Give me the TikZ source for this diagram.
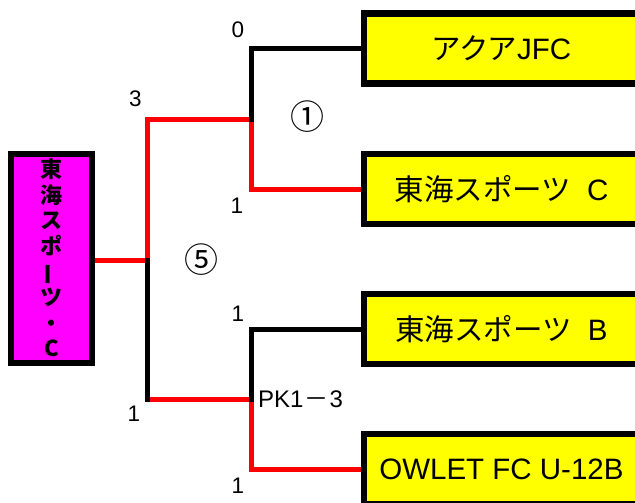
\documentclass[tikz,border=0pt]{standalone}
\usepackage{fontspec}
\usepackage{graphicx}
\setmainfont{Liberation Sans}
\newfontfamily\jp{Noto Sans CJK JP}
\definecolor{teamyellow}{RGB}{255,255,0}
\definecolor{winmagenta}{RGB}{255,0,255}
\definecolor{winred}{RGB}{255,0,0}
\begin{document}
\begin{tikzpicture}[x=1pt,y=-1pt,
  team/.style={draw=black, line width=6.5pt, fill=teamyellow, minimum width=275pt,
    minimum height=70pt, inner sep=0pt, anchor=west, font=\fontsize{29.5}{29.5}\selectfont},
  winner/.style={draw=black, line width=6pt, fill=winmagenta, minimum width=81pt,
    minimum height=209pt, inner sep=0pt, align=center,
    font=\jp\bfseries\fontsize{22}{25.6}\selectfont},
  score/.style={inner sep=0pt, font=\fontsize{22.5}{22.5}\selectfont},
  pk/.style={inner sep=0pt, anchor=west, font=\fontsize{24}{24}\selectfont},
  gameno/.style={inner sep=0pt, font=\jp\fontsize{34}{34}\selectfont},
  winline/.style={draw=winred, line width=5pt},
  loseline/.style={draw=black, line width=5pt, line cap=rect}]
\clip (0,0) rectangle (635,503);
\fill[white] (0,0) rectangle (635,503);

% nodes
\node[winner] (team0) at (51.5,258) {東\\海\\ス\\ポ\\\rotatebox[origin=c]{90}{ー}\\ツ\\・\\C};
\node[team] (team1) at (360.7,48.5) {{\jp ア\kern-1.5ptク\kern-1.5ptア}JFC};
\node[team] (team2) at (360.7,189) {{\jp 東海スポーツ}\hspace{16pt}C};
\node[team] (team3) at (360.7,329) {{\jp 東海スポーツ}\hspace{16pt}B};
\node[team] (team4) at (360.7,469) {OWLET FC U-12B};

% junctions
\coordinate (j5) at (147,260);
\coordinate (t3) at (147,119);
\coordinate (b3) at (147,399);
\coordinate (j1) at (251,119);
\coordinate (j2) at (251,399);

% winner (red) lines first
\draw[winline] (team0.east |- j5) -- (j5) -- (t3) -- (j1);
\draw[winline] (b3) -- (j2);
\draw[winline] (j1) -- (j1 |- team2.west) -- (team2.west);
\draw[winline] (j2) -- (j2 |- team4.west) -- (team4.west);
% loser (black) lines
\draw[loseline] (j5) -- (b3);
\draw[loseline] (j1) -- (j1 |- team1.west) -- (team1.west);
\draw[loseline] (j2) -- (j2 |- team3.west) -- (team3.west);

% scores
\node[score] (s1a) at (238,30) {0};
\node[score] (s1b) at (237,206) {1};
\node[score] (s5a) at (135.5,98.5) {3};
\node[score] (s5b) at (134,414) {1};
\node[score] (s2a) at (238,314) {1};
\node[score] (s2b) at (238,486) {1};
\node[pk] (pk2) at (258,399) {PK1\kern1pt{\jp －}\kern1pt3};
\node[gameno] (g1) at (307.5,117) {①};
\node[gameno] (g5) at (201,260) {⑤};
\end{tikzpicture}
\end{document}
